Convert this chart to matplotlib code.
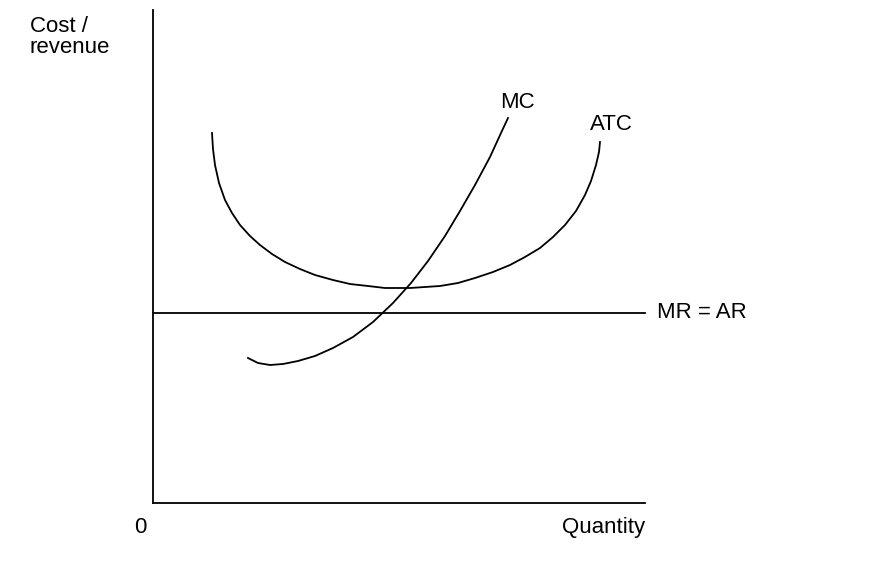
import matplotlib
matplotlib.use("Agg")
import matplotlib.pyplot as plt

# data in pixel-like units: q from y-axis, cost measured up from x-axis
atc_q = [59, 60, 62, 66, 72, 79, 87, 97, 107, 119, 132, 147, 162, 180, 197, 215, 232, 257, 287, 305, 322, 340, 357, 372, 387, 400, 412, 423, 432, 438, 443, 446, 447]
atc_c = [370, 354, 338, 320, 303, 290, 278, 267, 258, 249, 241, 234, 228, 223, 219, 217, 215, 215, 217, 220, 225, 231, 238, 246, 255, 266, 278, 292, 308, 322, 338, 351, 361]
mc_q = [95, 105, 117, 130, 145, 162, 180, 200, 220, 240, 258, 275, 292, 307, 322, 337, 348, 355]
mc_c = [145, 140, 138, 139, 142, 147, 155, 166, 181, 200, 220, 242, 267, 292, 318, 346, 370, 385]
mr_level = 190
mr_q = [0, 492]

plt.rcParams['font.family'] = ['Liberation Sans', 'DejaVu Sans']
fig = plt.figure(figsize=(8.72, 5.72), dpi=100)
ax = fig.add_axes([153/872, (572-503)/572, (645-153)/872, 493/572])
ax.set_xlim(0, 492)
ax.set_ylim(0, 493)
for s in ["top", "right"]:
    ax.spines[s].set_visible(False)
for s in ["left", "bottom"]:
    ax.spines[s].set_linewidth(1.3)
ax.set_xticks([]); ax.set_yticks([])

lw = 1.3
ax.plot(atc_q, atc_c, color="black", lw=lw)
ax.plot(mc_q, mc_c, color="black", lw=lw)
ax.plot(mr_q, [mr_level, mr_level], color="black", lw=lw, clip_on=False)

fs = 16
ax.text(-123, 487, "Cost /\nrevenue", fontsize=fs, va="top", ha="left", linespacing=1.0, clip_on=False)
ax.text(-13, -14, "0", fontsize=fs, va="top", ha="center", clip_on=False)
ax.text(492, -14, "Quantity", fontsize=fs, va="top", ha="right", clip_on=False)
ax.text(347, 400, "MC", fontsize=fs, va="center", ha="left")
ax.text(437, 378, "ATC", fontsize=fs, va="center", ha="left")
ax.text(504, mr_level, "MR = AR", fontsize=fs, va="center", ha="left", clip_on=False)

fig.savefig("out.png", dpi=100)
